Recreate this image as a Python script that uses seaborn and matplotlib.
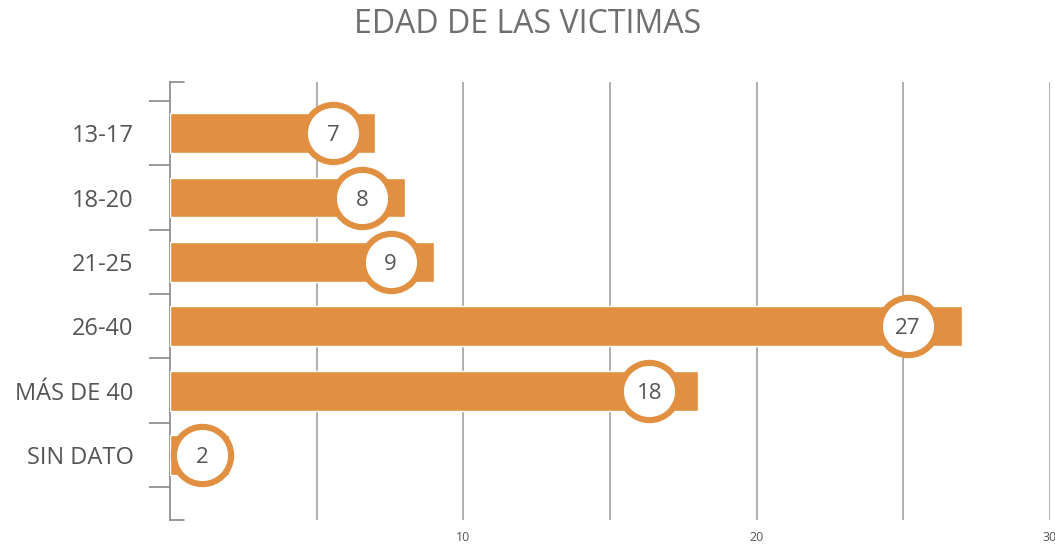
import numpy as np
import pandas as pd
import seaborn as sns
import matplotlib.pyplot as plt

# Datos
grupos = ['13-17', '18-20', '21-25', '26-40', 'MÁS DE 40', 'SIN DATO']
victimas = [7, 8, 9, 27, 18, 2]
ticks_x = [5, 10, 15, 20, 25, 30]
etiquetas_x = ['', '10', '', '20', '', '30']

naranja = '#E18F41'
gris_texto = '#555555'
gris_linea = '#9a9a9a'

sns.set_theme(style='white')
plt.rcParams['font.family'] = ['Open Sans', 'DejaVu Sans']

df = pd.DataFrame({'grupo': grupos, 'victimas': victimas})

fig = plt.figure(figsize=(10.55, 5.45), dpi=100)
ax = fig.add_axes([0.1611, 0.0459, 0.8341, 0.8036])

sns.barplot(data=df, x='victimas', y='grupo', color=naranja, saturation=1,
            width=0.62, orient='h', ax=ax, zorder=3)

# Lineas verticales de la cuadricula
for t in ticks_x:
    ax.axvline(t, color=gris_linea, lw=1.1, zorder=1)

# Circulos con el valor
pos = np.arange(len(grupos))
v = np.array(victimas)
centro = np.maximum(v - 1.3 - 0.02 * v, 1.1)
ax.scatter(centro, pos, s=1700, facecolor='white', edgecolor=naranja,
           linewidth=4.4, zorder=4, clip_on=False)
for xc, yc, val in zip(centro, pos, victimas):
    ax.text(xc, yc, str(val), ha='center', va='center_baseline', fontsize=16,
            color=gris_texto, zorder=5)

ax.set_xlim(0, 30)
ax.set_ylim(6.01, -0.795)
ax.set_xticks(ticks_x)
ax.set_xticklabels(etiquetas_x, fontsize=9, color=gris_texto)
ax.tick_params(axis='x', length=0, pad=8)

# marcas del eje y en los limites de cada categoria
ax.set_yticks(np.arange(-0.5, len(grupos) + 0.5, 1.0))
ax.set_yticklabels([])
ax.set_yticks(pos, minor=True)
ax.set_yticklabels(grupos, minor=True, fontsize=17, color=gris_texto)
ax.tick_params(axis='y', which='major', length=15, width=1.2, color='#888888',
               left=True)
ax.tick_params(axis='y', which='minor', length=0, pad=26)
ax.set_xlabel('')
ax.set_ylabel('')

for s in ['top', 'right', 'bottom']:
    ax.spines[s].set_visible(False)
ax.spines['left'].set_color('#888888')
ax.spines['left'].set_linewidth(1.2)
for yy in [0, 1]:
    ax.plot([0, 0.016], [yy, yy], transform=ax.transAxes, color='#888888',
            lw=1.2, clip_on=False)

fig.suptitle('EDAD DE LAS VICTIMAS', x=0.5, y=0.985, va='top', fontsize=23,
             color='#6f6f6f')

fig.savefig('out.png', dpi=100)
